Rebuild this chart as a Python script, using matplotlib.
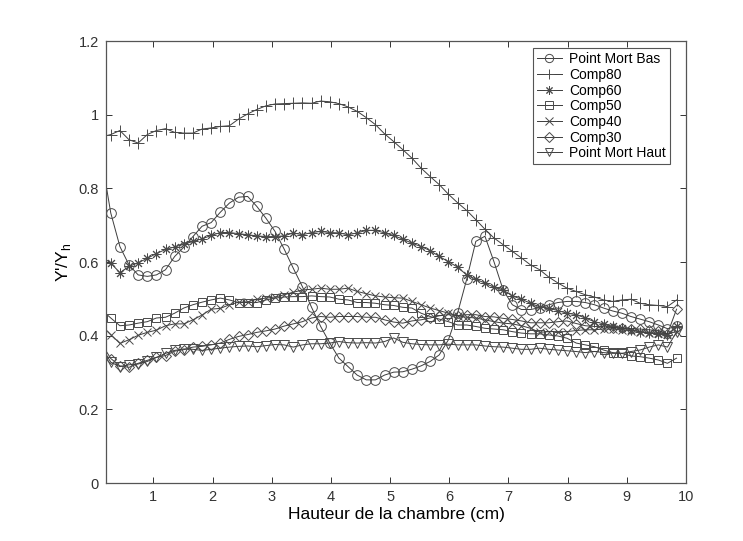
import numpy as np
import matplotlib
matplotlib.use("Agg")
import matplotlib.pyplot as plt
from matplotlib.ticker import FuncFormatter

plt.rcParams['font.family'] = ['Liberation Sans', 'DejaVu Sans']

# sample positions along the chamber (first one lies just left of the axis limit)
x_start = 0.126
x_step = 0.1542

series_names = ["Point Mort Bas", "Comp80", "Comp60", "Comp50",
                "Comp40", "Comp30", "Point Mort Haut"]

pm_bas = [0.880,
          0.733, 0.642, 0.592, 0.565, 0.561, 0.565, 0.579, 0.615, 0.640, 0.669,
          0.697, 0.707, 0.735, 0.760, 0.776, 0.778, 0.751, 0.719, 0.683, 0.635,
          0.583, 0.533, 0.477, 0.425, 0.380, 0.339, 0.316, 0.293, 0.280, 0.280,
          0.293, 0.301, 0.302, 0.309, 0.318, 0.330, 0.348, 0.389, 0.461, 0.553,
          0.656, 0.670, 0.600, 0.524, 0.484, 0.471, 0.471, 0.476, 0.484, 0.490,
          0.493, 0.493, 0.490, 0.484, 0.475, 0.467, 0.461, 0.452, 0.445, 0.438,
          0.429, 0.419, 0.425]

comp80 = [0.940,
          0.946, 0.957, 0.932, 0.923, 0.946, 0.957, 0.962, 0.952, 0.950, 0.950,
          0.961, 0.964, 0.968, 0.970, 0.988, 1.002, 1.014, 1.024, 1.029, 1.030,
          1.031, 1.032, 1.031, 1.037, 1.035, 1.030, 1.021, 1.009, 0.992, 0.973,
          0.948, 0.927, 0.905, 0.882, 0.855, 0.832, 0.810, 0.784, 0.761, 0.740,
          0.715, 0.689, 0.665, 0.647, 0.629, 0.611, 0.592, 0.579, 0.559, 0.543,
          0.529, 0.520, 0.511, 0.505, 0.497, 0.493, 0.497, 0.499, 0.488, 0.484,
          0.482, 0.479, 0.497]

comp60 = [0.615,
          0.597, 0.571, 0.588, 0.598, 0.610, 0.623, 0.634, 0.641, 0.648, 0.656,
          0.663, 0.672, 0.680, 0.680, 0.677, 0.674, 0.671, 0.669, 0.669, 0.671,
          0.679, 0.674, 0.680, 0.683, 0.680, 0.679, 0.674, 0.679, 0.686, 0.686,
          0.679, 0.672, 0.662, 0.651, 0.642, 0.631, 0.615, 0.601, 0.586, 0.565,
          0.553, 0.543, 0.531, 0.524, 0.508, 0.499, 0.488, 0.478, 0.475, 0.468,
          0.461, 0.457, 0.448, 0.438, 0.432, 0.425, 0.420, 0.416, 0.411, 0.407,
          0.405, 0.402, 0.425]

comp50 = [0.470,
          0.448, 0.427, 0.429, 0.434, 0.438, 0.448, 0.450, 0.461, 0.475, 0.484,
          0.491, 0.497, 0.502, 0.497, 0.490, 0.490, 0.490, 0.497, 0.502, 0.505,
          0.506, 0.506, 0.508, 0.506, 0.505, 0.499, 0.497, 0.490, 0.490, 0.488,
          0.484, 0.482, 0.477, 0.475, 0.461, 0.452, 0.445, 0.438, 0.429, 0.429,
          0.425, 0.420, 0.418, 0.416, 0.411, 0.407, 0.405, 0.405, 0.402, 0.399,
          0.393, 0.380, 0.375, 0.370, 0.361, 0.354, 0.352, 0.345, 0.343, 0.339,
          0.334, 0.325, 0.339]

comp40 = [0.428,
          0.403, 0.379, 0.389, 0.401, 0.409, 0.415, 0.427, 0.432, 0.432, 0.443,
          0.456, 0.472, 0.474, 0.484, 0.491, 0.492, 0.499, 0.502, 0.505, 0.511,
          0.518, 0.524, 0.526, 0.529, 0.526, 0.526, 0.529, 0.520, 0.514, 0.508,
          0.505, 0.503, 0.502, 0.493, 0.484, 0.475, 0.468, 0.461, 0.454, 0.450,
          0.448, 0.443, 0.438, 0.434, 0.432, 0.427, 0.420, 0.409, 0.411, 0.411,
          0.411, 0.414, 0.416, 0.416, 0.418, 0.418, 0.416, 0.414, 0.411, 0.408,
          0.407, 0.405, 0.411]

comp30 = [0.378,
          0.338, 0.318, 0.314, 0.325, 0.333, 0.341, 0.346, 0.358, 0.362, 0.369,
          0.371, 0.375, 0.380, 0.390, 0.398, 0.403, 0.409, 0.413, 0.418, 0.426,
          0.432, 0.438, 0.448, 0.452, 0.450, 0.452, 0.452, 0.452, 0.450, 0.450,
          0.443, 0.437, 0.434, 0.440, 0.443, 0.448, 0.454, 0.457, 0.454, 0.457,
          0.457, 0.452, 0.451, 0.447, 0.444, 0.440, 0.435, 0.435, 0.435, 0.438,
          0.440, 0.433, 0.427, 0.425, 0.424, 0.422, 0.421, 0.419, 0.418, 0.416,
          0.413, 0.405, 0.472]

pm_haut = [0.370,
           0.328, 0.316, 0.321, 0.323, 0.330, 0.341, 0.352, 0.360, 0.364, 0.363,
           0.360, 0.363, 0.366, 0.369, 0.371, 0.372, 0.370, 0.373, 0.376, 0.375,
           0.369, 0.375, 0.378, 0.378, 0.380, 0.384, 0.381, 0.380, 0.381, 0.380,
           0.384, 0.394, 0.382, 0.378, 0.376, 0.375, 0.375, 0.377, 0.375, 0.375,
           0.375, 0.372, 0.370, 0.369, 0.366, 0.363, 0.363, 0.366, 0.363, 0.361,
           0.359, 0.357, 0.354, 0.357, 0.354, 0.352, 0.352, 0.357, 0.361, 0.369,
           0.375, 0.369, 0.410]

x_ticks = [1, 2, 3, 4, 5, 6, 7, 8, 9, 10]
y_ticks = [0, 0.2, 0.4, 0.6, 0.8, 1.0, 1.2]

markers = ['o', '+', (8, 2, 0), 's', 'x', 'D', 'v']
sizes = [7, 8, 7, 6, 6, 5.5, 7]

fig = plt.figure(figsize=(7.43, 5.41), dpi=100)
ax = fig.add_axes([0.1427, 0.1072, 0.7806, 0.817])

ys = [pm_bas, comp80, comp60, comp50, comp40, comp30, pm_haut]
x = x_start + x_step * np.arange(len(pm_bas))
line_col = '#3c3c3c'
for name, y, m, ms in zip(series_names, ys, markers, sizes):
    # the first sample sits left of the axis limit: line only, no marker
    ax.plot(x, y, color=line_col, linewidth=0.7, marker=m, markersize=ms,
            markevery=slice(1, None),
            markerfacecolor='none', markeredgecolor='#4a4a4a',
            markeredgewidth=0.7, label=name)

ax.set_xlim(0.2, 10)
ax.set_ylim(0, 1.2)
ax.set_xticks(x_ticks)
ax.set_yticks(y_ticks)
ax.yaxis.set_major_formatter(FuncFormatter(lambda v, p: '%g' % round(v, 2)))
ax.tick_params(direction='in', top=True, right=True, length=4, width=0.7,
               colors='#333333', labelsize=10.5, pad=5)
for s in ax.spines.values():
    s.set_color('#555555')
    s.set_linewidth(0.9)

ax.set_xlabel('Hauteur de la chambre (cm)', fontsize=12.5, labelpad=2)
ax.set_ylabel("Y'/Y$_\\mathregular{h}$", fontsize=12.5, labelpad=4)

leg = ax.legend(loc='upper right', bbox_to_anchor=(0.972, 0.984),
                fontsize=10, frameon=True, fancybox=False, framealpha=1,
                edgecolor='#555555', handlelength=1.8, handletextpad=0.5,
                labelspacing=0.12, borderpad=0.3, borderaxespad=0,
                markerscale=0.85)
leg.get_frame().set_linewidth(0.8)

fig.savefig('out.png', dpi=100, facecolor='white')
